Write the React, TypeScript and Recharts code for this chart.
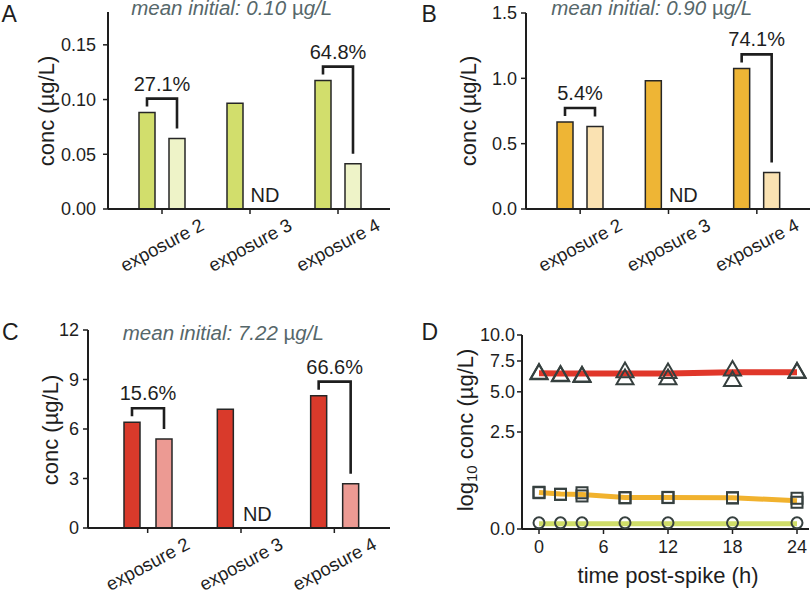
import React from "react";
import { BarChart, Bar, XAxis, YAxis, LabelList, ComposedChart, Line, Scatter } from "recharts";

const FONT = "'Liberation Sans', Arial, Helvetica, sans-serif";
const INK = "#1e1e1e";
const NOTE = "#56676a";
const MARK = "#36403f";

const EXPOSURES = ["exposure 2", "exposure 3", "exposure 4"];

// panel A - low spike (0.10 ug/L)
const A_BEFORE = [0.0881, 0.0967, 0.1173];
const A_AFTER = [0.0645, null, 0.0413];
const A_PCT = ["27.1%", null, "64.8%"];
const A_TICKS = [0, 0.05, 0.1, 0.15];

// panel B - mid spike (0.90 ug/L)
const B_BEFORE = [0.666, 0.982, 1.076];
const B_AFTER = [0.632, null, 0.28];
const B_PCT = ["5.4%", null, "74.1%"];
const B_TICKS = [0, 0.5, 1.0, 1.5];

// panel C - high spike (7.22 ug/L)
const C_BEFORE = [6.41, 7.2, 8.02];
const C_AFTER = [5.4, null, 2.68];
const C_PCT = ["15.6%", null, "66.6%"];
const C_TICKS = [0, 3, 6, 9, 12];

// panel D - time course
const TIMES = [0, 2, 4, 8, 12, 18, 24];
const D_X_TICKS = [0, 6, 12, 18, 24];
const D_Y_TICKS = [0, 2.5, 5, 7.5, 10];
const HIGH_MEAN = [6.44, 6.43, 6.42, 6.42, 6.43, 6.52, 6.53];
const HIGH_REP1 = [6.4, 6.23, 6.17, 6.53, 6.45, 6.66, 6.5];
const HIGH_REP2 = [6.36, 6.2, 6.13, 5.96, 5.96, 5.82, 6.46];
const MID_MEAN = [0.355, 0.324, 0.317, 0.265, 0.265, 0.26, 0.212];
const MID_REP1 = [0.359, 0.321, 0.349, 0.262, 0.266, 0.26, 0.251];
const MID_REP2 = [0.35, 0.318, 0.29, 0.258, 0.262, 0.256, 0.19];
const LOW_MEAN = [0.007, 0.007, 0.007, 0.007, 0.007, 0.007, 0.007];
const LOW_REP = [0.01, 0.01, 0.01, 0.01, 0.01, 0.01, 0.01];

const lineTable = TIMES.map((t, i) => ({ t, high: HIGH_MEAN[i], mid: MID_MEAN[i], low: LOW_MEAN[i] }));
const pts = (...reps: number[][]) => reps.flatMap((r) => TIMES.map((t, i) => ({ t, v: r[i] })));

// bracket + % removal drawn off the "before" bar; ND where no "after" value
const bracketLabel = (before: number[], after: (number | null)[], pct: (string | null)[], gap: number) =>
  (props: any) => {
    const i = props.index;
    const a = after[i];
    const { x, y, width, height } = props.viewBox ?? props;
    const base = y + height;
    const x1 = x + width / 2;
    const x2 = x + width + gap + width / 2;
    if (a == null) {
      return <text x={x2} y={base - 7} textAnchor="middle" fontSize={20} fill={INK} fontFamily={FONT}>ND</text>;
    }
    const lightTop = base - (a / before[i]) * height;
    const top = y - 14;
    return (
      <g>
        <path d={`M${x1},${y - 6}V${top}H${x2}V${lightTop - 10}`} fill="none" stroke={INK} strokeWidth={2.6} />
        <text x={(x1 + x2) / 2} y={top - 8} textAnchor="middle" fontSize={20} fill={INK} fontFamily={FONT}>{pct[i]}</text>
      </g>
    );
  };

const CatTick = (props: any) => {
  const { x, y, payload } = props;
  const cy = y + 29;
  return (
    <text x={x} y={cy} textAnchor="middle" dominantBaseline="central" transform={`rotate(-28 ${x} ${cy})`}
      fontSize={18.5} fill={INK} fontFamily={FONT}>{payload.value}</text>
  );
};

const axisLine = { stroke: INK, strokeWidth: 2 };
const tickLine = { stroke: INK, strokeWidth: 1.5 };
const tickFont = { fontSize: 18, fill: INK, fontFamily: FONT };

function BarPanel(p: any) {
  const data = EXPOSURES.map((name, i) => ({ name, before: p.before[i], after: p.after[i] ?? 0 }));
  return (
    <div style={{ position: "absolute", left: p.left, top: p.top }}>
      <BarChart width={405} height={p.height} data={data} margin={p.margin} barSize={16} barGap={p.gap}>
        <XAxis dataKey="name" axisLine={axisLine} tickLine={tickLine} tickSize={5} height={p.xh}
          padding={p.pad} tick={<CatTick />} interval={0} />
        <YAxis type="number" domain={p.domain} ticks={p.ticks} width={p.yw} axisLine={axisLine} tickLine={tickLine}
          tickSize={5} tickMargin={p.tm} tick={tickFont} tickFormatter={p.fmt} interval={0} />
        <Bar dataKey="before" fill={p.dark} stroke="#262626" strokeWidth={1.5} isAnimationActive={false}>
          <LabelList dataKey="before" content={bracketLabel(p.before, p.after, p.pct, p.gap)} />
        </Bar>
        <Bar dataKey="after" fill={p.light} stroke="#262626" strokeWidth={1.5} isAnimationActive={false} />
      </BarChart>
    </div>
  );
}

const Tri = (props: any) => {
  const { cx, cy } = props;
  return <path d={`M${cx},${cy - 9.8}L${cx - 8.5},${cy + 4.9}L${cx + 8.5},${cy + 4.9}Z`} fill="none" stroke={MARK} strokeWidth={2} />;
};
const Sq = (props: any) => <rect x={props.cx - 5.5} y={props.cy - 5.5} width={11} height={11} fill="none" stroke={MARK} strokeWidth={2} />;
const Circ = (props: any) => <circle cx={props.cx} cy={props.cy} r={5.5} fill="none" stroke={MARK} strokeWidth={2} />;

function TimePanel() {
  return (
    <div style={{ position: "absolute", left: 405, top: 295 }}>
      <ComposedChart width={405} height={296} data={lineTable} margin={{ top: 40, right: 1, bottom: 0, left: 0 }}>
        <XAxis dataKey="t" type="number" domain={[0, 24]} ticks={D_X_TICKS} padding={{ left: 17, right: 12 }}
          axisLine={axisLine} tickLine={tickLine} tickSize={5} tickMargin={6} tick={tickFont} height={62} interval={0} />
        <YAxis type="number" scale="sqrt" domain={[0, 10]} ticks={D_Y_TICKS} width={117} axisLine={axisLine}
          tickLine={tickLine} tickSize={5} tickMargin={2} tick={tickFont} tickFormatter={(v: number) => v.toFixed(1)} interval={0} />
        <Line dataKey="high" stroke="#e0372a" strokeWidth={6} dot={false} isAnimationActive={false} />
        <Line dataKey="mid" stroke="#f1b22e" strokeWidth={5} dot={false} isAnimationActive={false} />
        <Line dataKey="low" stroke="#cfdd69" strokeWidth={5} dot={false} isAnimationActive={false} />
        <Scatter data={pts(HIGH_REP1, HIGH_REP2)} dataKey="v" shape={<Tri />} isAnimationActive={false} />
        <Scatter data={pts(MID_REP1, MID_REP2)} dataKey="v" shape={<Sq />} isAnimationActive={false} />
        <Scatter data={pts(LOW_REP)} dataKey="v" shape={<Circ />} isAnimationActive={false} />
      </ComposedChart>
    </div>
  );
}

const mu = <tspan fontStyle="normal">µ</tspan>;

export default function App() {
  const txt = { fontFamily: FONT, fill: INK };
  return (
    <div style={{ position: "absolute", left: 0, top: 0, width: 810, height: 591, background: "#fff", overflow: "hidden" }}>
      <BarPanel left={0} top={0} height={295} margin={{ top: 12, right: 15, bottom: 0, left: 0 }} yw={108} xh={86}
        pad={{ left: 10, right: 8 }} gap={14} tm={7} domain={[0, 0.18]} ticks={A_TICKS} fmt={(v: number) => v.toFixed(2)}
        before={A_BEFORE} after={A_AFTER} pct={A_PCT} dark="#d2de6c" light="#eef3c8" />
      <BarPanel left={405} top={0} height={295} margin={{ top: 13, right: 0, bottom: 0, left: 0 }} yw={121} xh={86}
        pad={{ left: 10, right: 9 }} gap={14} tm={4} domain={[0, 1.5]} ticks={B_TICKS} fmt={(v: number) => v.toFixed(1)}
        before={B_BEFORE} after={B_AFTER} pct={B_PCT} dark="#eeb535" light="#fae2b2" />
      <BarPanel left={0} top={295} height={296} margin={{ top: 35, right: 15, bottom: 0, left: 0 }} yw={88} xh={63}
        pad={{ left: 13, right: 9 }} gap={16} tm={4} domain={[0, 12]} ticks={C_TICKS} fmt={(v: number) => String(v)}
        before={C_BEFORE} after={C_AFTER} pct={C_PCT} dark="#d93a2b" light="#ec9a93" />
      <TimePanel />
      <svg width={810} height={591} style={{ position: "absolute", left: 0, top: 0, pointerEvents: "none" }}>
        <g {...txt} fontSize={23}>
          <text x={1.5} y={21.7}>A</text>
          <text x={421.5} y={21.7}>B</text>
          <text x={2} y={340}>C</text>
          <text x={421.5} y={340}>D</text>
        </g>
        <g fontFamily={FONT} fill={NOTE} fontSize={20.5} fontStyle="italic" textAnchor="middle">
          <text x={231.7} y={15}>mean initial: 0.10 {mu}g/L</text>
          <text x={651.7} y={15}>mean initial: 0.90 {mu}g/L</text>
          <text x={223.3} y={340}>mean initial: 7.22 {mu}g/L</text>
        </g>
        <g {...txt} fontSize={22} textAnchor="middle" dominantBaseline="central">
          <text transform="translate(46.7,111) rotate(-90)">conc (µg/L)</text>
          <text transform="translate(468.3,111) rotate(-90)">conc (µg/L)</text>
          <text transform="translate(50,430) rotate(-90)">conc (µg/L)</text>
          <text transform="translate(465,430) rotate(-90)">
            log<tspan fontSize={15} dy={6}>10</tspan><tspan dy={-6}> conc (µg/L)</tspan>
          </text>
        </g>
        <text {...txt} fontSize={22} textAnchor="middle" x={668} y={583}>time post-spike (h)</text>
      </svg>
    </div>
  );
}
